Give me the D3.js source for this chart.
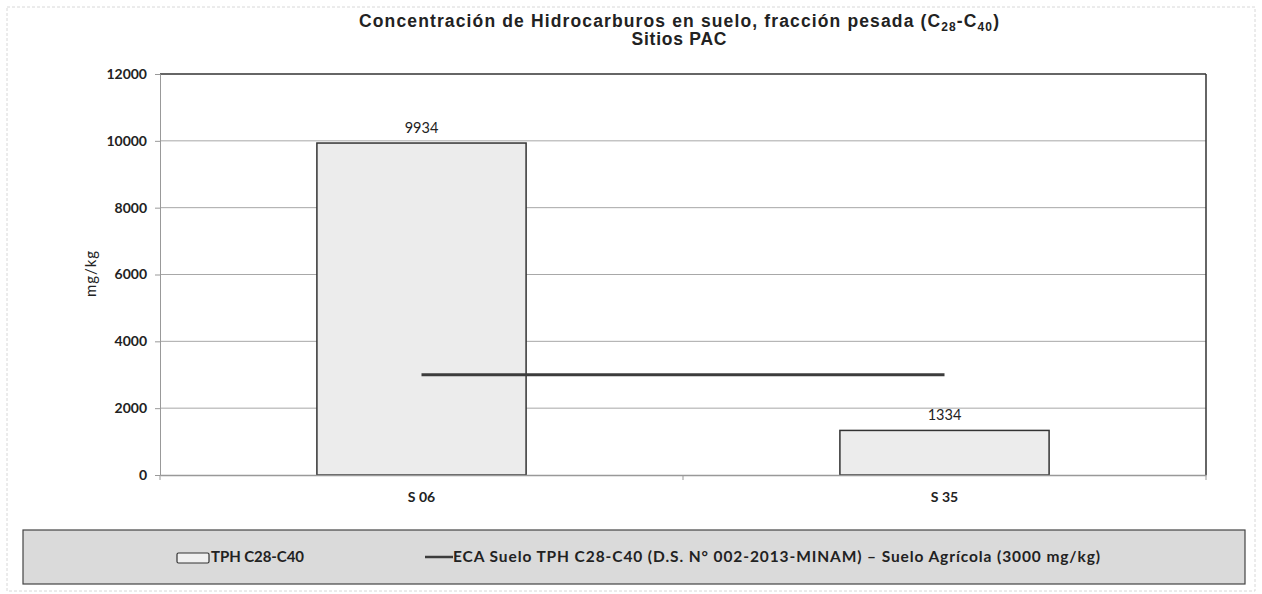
<!DOCTYPE html>
<html>
<head>
<meta charset="utf-8">
<script src="https://cdn.jsdelivr.net/npm/d3@7"></script>
<style>
  body { margin: 0; background: #fff; }
  svg { display: block; font-family: "Liberation Sans", Arial, sans-serif; }
  .tick text { font-family: Lato, "Open Sans", sans-serif; font-weight: bold; font-size: 14px; fill: #222; }
</style>
</head>
<body>
<div id="chart"></div>
<script>
// data
var sites = ["S 06", "S 35"];
var tphValues = [9934, 1334];
var ecaLimit = [3000, 3000];
var yTicks = [0, 2000, 4000, 6000, 8000, 10000, 12000];

var W = 1262, H = 594;
var margin = {top: 74, right: 56, bottom: 119, left: 160},
    width = W - margin.left - margin.right,
    height = H - margin.top - margin.bottom;

var root = d3.select("#chart").append("svg")
    .attr("width", W)
    .attr("height", H);

// faint outer frame of the original chart
root.append("rect")
    .attr("x", 7).attr("y", 7)
    .attr("width", W - 14).attr("height", H - 10)
    .attr("fill", "none")
    .attr("stroke", "#d8d8d8")
    .attr("stroke-dasharray", "3,2");

// title
var title = root.append("text")
    .attr("x", 679).attr("y", 27)
    .attr("text-anchor", "middle")
    .attr("font-weight", "bold")
    .attr("font-size", 17.5)
    .attr("fill", "#222")
    .attr("textLength", 640)
    .attr("lengthAdjust", "spacing");
title.append("tspan").text("Concentración de Hidrocarburos en suelo, fracción pesada (C");
title.append("tspan").attr("font-size", 12).attr("dy", 4).text("28");
title.append("tspan").attr("dy", -4).text("-C");
title.append("tspan").attr("font-size", 12).attr("dy", 4).text("40");
title.append("tspan").attr("dy", -4).text(")");
root.append("text")
    .attr("x", 679).attr("y", 45)
    .attr("text-anchor", "middle")
    .attr("font-weight", "bold")
    .attr("font-size", 17.5)
    .attr("fill", "#222")
    .attr("textLength", 95)
    .attr("lengthAdjust", "spacing")
    .text("Sitios PAC");

var svg = root.append("g")
    .attr("transform", "translate(" + margin.left + "," + margin.top + ")");

var x = d3.scaleBand()
    .domain(sites)
    .range([0, width]);

var y = d3.scaleLinear()
    .domain([0, 12000])
    .range([height, 0]);

// gridlines
svg.append("g")
  .selectAll("line")
  .data(yTicks.slice(1, -1))
  .join("line")
    .attr("x1", 0).attr("x2", width)
    .attr("y1", function(d) { return y(d); })
    .attr("y2", function(d) { return y(d); })
    .attr("stroke", "#a8a8a8")
    .attr("stroke-width", 1);

// frame top and right
svg.append("line")
    .attr("x1", 0).attr("x2", width).attr("y1", 0).attr("y2", 0)
    .attr("stroke", "#333").attr("stroke-width", 1.5);
svg.append("line")
    .attr("x1", width).attr("x2", width).attr("y1", 0).attr("y2", height)
    .attr("stroke", "#333").attr("stroke-width", 1.5);

// bars
var barW = x.bandwidth() * 0.4;
svg.selectAll(".bar")
  .data(tphValues)
  .join("rect")
    .attr("class", "bar")
    .attr("x", function(d, i) { return x(sites[i]) + (x.bandwidth() - barW) / 2; })
    .attr("y", function(d) { return y(d); })
    .attr("width", barW)
    .attr("height", function(d) { return height - y(d); })
    .attr("fill", "#ececec")
    .attr("stroke", "#333")
    .attr("stroke-width", 1.5);

// value labels
svg.selectAll(".lbl")
  .data(tphValues)
  .join("text")
    .attr("class", "lbl")
    .attr("x", function(d, i) { return x(sites[i]) + x.bandwidth() / 2; })
    .attr("y", function(d) { return y(d) - 10; })
    .attr("text-anchor", "middle")
    .attr("font-family", "Lato, 'Open Sans', sans-serif")
    .attr("font-size", 14.5)
    .attr("fill", "#222")
    .text(function(d) { return d; });

// ECA limit line
svg.append("path")
    .datum(ecaLimit)
    .attr("fill", "none")
    .attr("stroke", "#3c3c3c")
    .attr("stroke-width", 3)
    .attr("d", d3.line()
      .x(function(d, i) { return x(sites[i]) + x.bandwidth() / 2; })
      .y(function(d) { return y(d); }));

// axes
var yAxis = svg.append("g")
    .call(d3.axisLeft(y).tickValues(yTicks).tickFormat(d3.format("d")).tickSize(5).tickPadding(8));
yAxis.select(".domain").attr("stroke", "#999");
yAxis.selectAll(".tick line").attr("stroke", "#999");

var xAxis = svg.append("g")
    .attr("transform", "translate(0," + height + ")")
    .call(d3.axisBottom(x).tickSize(0).tickPadding(17));
xAxis.select(".domain").attr("stroke", "#999").attr("stroke-width", 1.5);
// tick marks between categories
xAxis.selectAll(".sep")
  .data([0, width / 2, width])
  .join("line")
    .attr("class", "sep")
    .attr("x1", function(d) { return d; }).attr("x2", function(d) { return d; })
    .attr("y1", 0).attr("y2", 5)
    .attr("stroke", "#999");

// y axis title
root.append("text")
    .attr("transform", "translate(96,274) rotate(-90)")
    .attr("text-anchor", "middle")
    .attr("font-family", "Lato, 'Open Sans', sans-serif")
    .attr("font-size", 15)
    .attr("fill", "#222")
    .attr("textLength", 46)
    .attr("lengthAdjust", "spacing")
    .text("mg/kg");

// legend
var lg = root.append("g");
lg.append("rect")
    .attr("x", 23).attr("y", 530)
    .attr("width", 1222).attr("height", 54)
    .attr("fill", "#dadada")
    .attr("stroke", "#444")
    .attr("stroke-width", 1.2);
lg.append("rect")
    .attr("x", 177).attr("y", 553)
    .attr("width", 32).attr("height", 10)
    .attr("rx", 1.5)
    .attr("fill", "#f0f0f0")
    .attr("stroke", "#333")
    .attr("stroke-width", 1.2);
lg.append("text")
    .attr("x", 211).attr("y", 562)
    .attr("font-family", "Lato, 'Open Sans', sans-serif")
    .attr("font-weight", "bold")
    .attr("font-size", 15)
    .attr("fill", "#222")
    .attr("textLength", 93)
    .attr("lengthAdjust", "spacing")
    .text("TPH C28-C40");
lg.append("line")
    .attr("x1", 425).attr("x2", 453).attr("y1", 557).attr("y2", 557)
    .attr("stroke", "#3c3c3c").attr("stroke-width", 2.5);
lg.append("text")
    .attr("x", 453).attr("y", 562)
    .attr("font-family", "Lato, 'Open Sans', sans-serif")
    .attr("font-weight", "bold")
    .attr("font-size", 15.5)
    .attr("fill", "#222")
    .attr("textLength", 647)
    .attr("lengthAdjust", "spacing")
    .text("ECA Suelo TPH C28-C40 (D.S. N° 002-2013-MINAM) – Suelo Agrícola (3000 mg/kg)");
</script>
</body>
</html>
